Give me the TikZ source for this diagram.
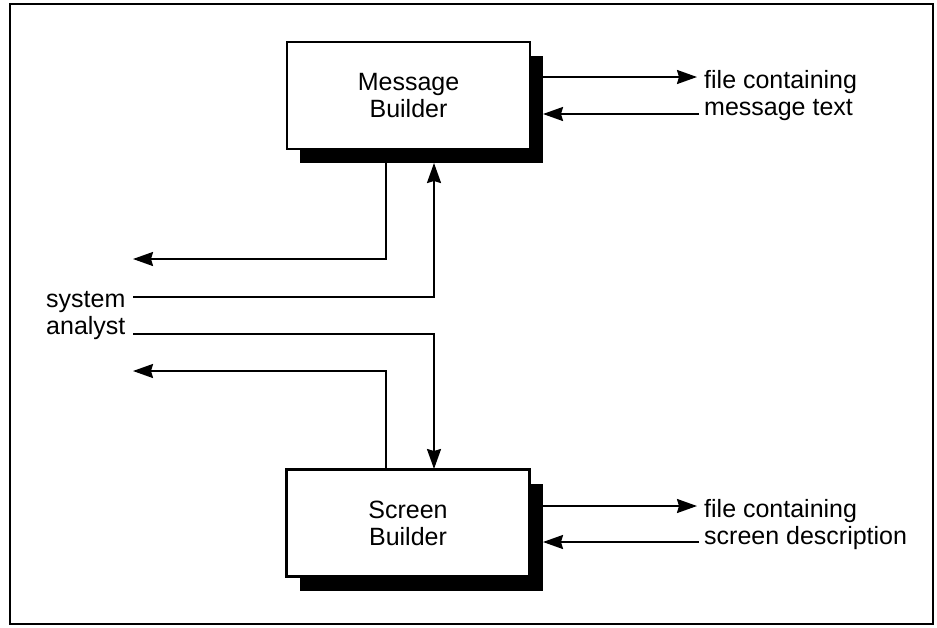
\documentclass[tikz,border=0pt]{standalone}
\usepackage{fontspec}
\setmainfont{Liberation Sans}
\usetikzlibrary{arrows.meta,shadows}
\begin{document}
\begin{tikzpicture}[x=1pt,y=-1pt,
  procbox/.style={draw,line width=2.8pt,fill=white,minimum width=243pt,minimum height=107pt,
    align=center,font=\fontsize{25}{27}\selectfont,inner sep=0pt,
    drop shadow={shadow xshift=13pt,shadow yshift=-14pt,fill=black,opacity=1}},
  lbl/.style={align=left,font=\fontsize{25}{27}\selectfont,inner sep=0pt,anchor=west},
  conn/.style={line width=2pt},
  arr/.style={conn,-{Stealth[length=20pt,width=14pt,inset=2pt]}}]
\useasboundingbox (0,0) rectangle (937,627);
\node[draw,line width=2.5pt,minimum width=923pt,minimum height=620pt,inner sep=0pt] (frame) at (471.5,314) {};
\node[procbox] (mb) at (408.5,95.5) {Message\\Builder};
\node[procbox] (sb) at (408,523) {Screen\\Builder};
\node[lbl] (mtext) at (704,96) {file containing\\message text};
\node[lbl] (stext) at (704,525) {file containing\\screen description};
\node[lbl] (sa) at (46,315.5) {system\\analyst};
% coordinates
\coordinate (mbs1) at (386,163);
\coordinate (mbs2) at (434,163);
\coordinate (sbn1) at (386,469);
\coordinate (sbn2) at (434,469);
\coordinate (l1) at (133,259);
\coordinate (l2) at (133,297);
\coordinate (l3) at (133,334);
\coordinate (l4) at (133,371);
\coordinate (mbr1) at (543,77);
\coordinate (mbr2) at (543,114);
\coordinate (mo1) at (697,77);
\coordinate (mo2) at (699,114);
\coordinate (sbr1) at (543,506);
\coordinate (sbr2) at (543,542);
\coordinate (so1) at (697,506);
\coordinate (so2) at (699,542);
% connectors
\draw[arr] (mbs1) |- (l1);
\draw[arr] (l2) -| (mbs2);
\draw[arr] (l3) -| (sbn2);
\draw[arr] (sbn1) |- (l4);
\draw[arr] (mbr1) -- (mo1);
\draw[arr] (mo2) -- (mbr2);
\draw[arr] (sbr1) -- (so1);
\draw[arr] (so2) -- (sbr2);
\end{tikzpicture}
\end{document}
